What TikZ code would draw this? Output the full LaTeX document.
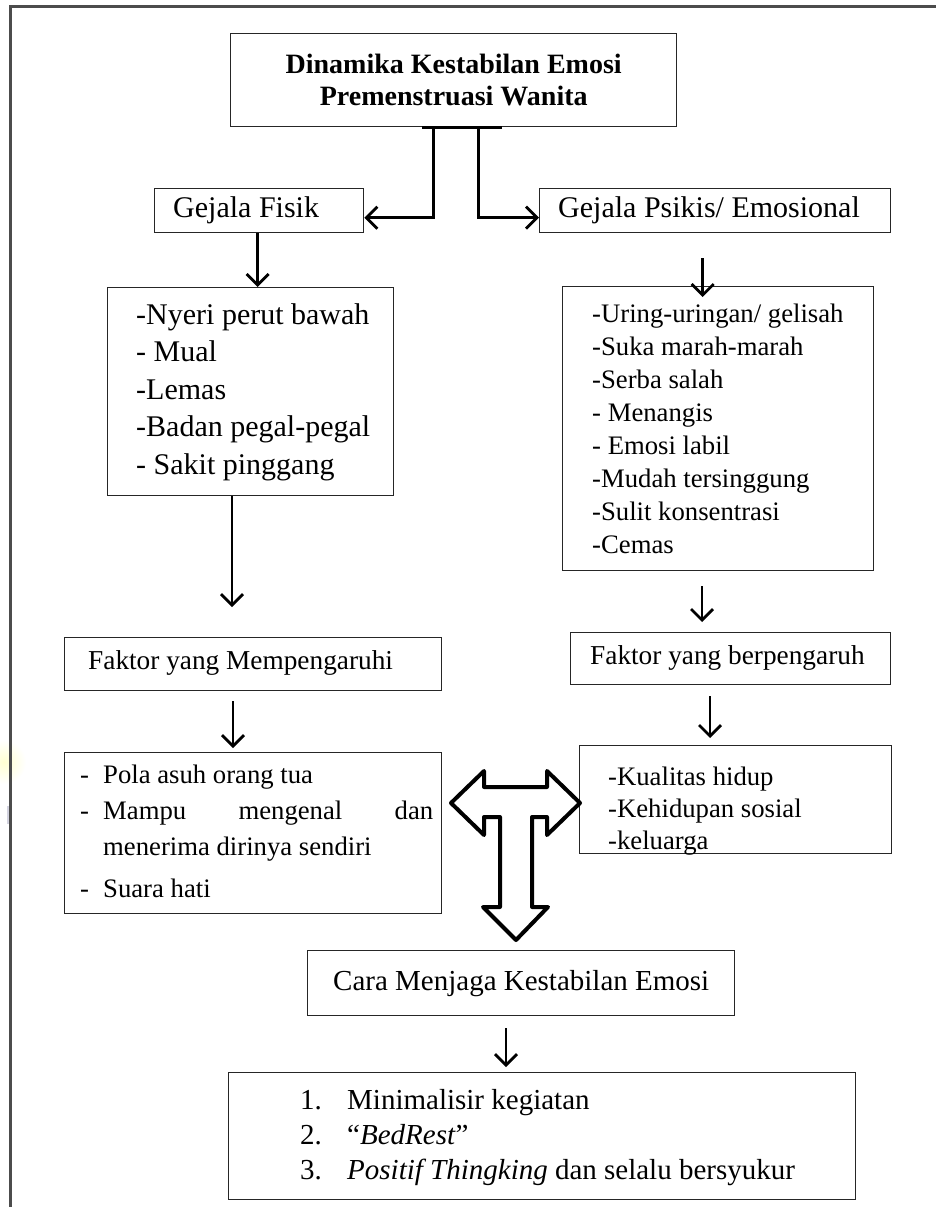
\documentclass[tikz,border=0pt]{standalone}
\usepackage{fontspec}
\setmainfont{Liberation Serif}
\usetikzlibrary{arrows.meta}
\begin{document}
\begin{tikzpicture}[x=1pt,y=-1pt,
  box/.style={draw=black!85, line width=1.4pt, inner sep=0pt, anchor=north west},
  arr/.style={line width=2.8pt, -{Straight Barb[length=11pt,width=22pt,line width=2.8pt]}},
  head/.style={font=\fontsize{30}{34}\selectfont},
  fhead/.style={font=\fontsize{27.3}{32}\selectfont},
  txt/.style={inner sep=0pt, anchor=west, align=left},
  frame/.style={draw=black!70, line width=2.5pt},
  blockarrow/.style={line width=4pt, line join=round}
]
\useasboundingbox (0,0) rectangle (936,1207);
% faint scan marks at the left edge
\shade[inner color=yellow!18, outer color=white] (4,762) circle (22);
\draw[line width=3pt, blue!15!gray!30] (8.5,806) -- (8.5,824);
% outer frame (top and left only)
\draw[frame] (936,6.7) -- (10.7,6.7) -- (10.7,1207);

% title
\node[box, minimum width=446pt, minimum height=93pt, align=center,
      font=\bfseries\fontsize{28}{32}\selectfont] (title) at (230,33)
      {Dinamika Kestabilan Emosi\\Premenstruasi Wanita};
\draw[line width=3pt] ([xshift=-32pt]title.south) -- ([xshift=48pt]title.south);

% level 1
\node[box, minimum width=209pt, minimum height=44pt] (fisik) at (154,188) {};
\node[txt, head] (fisiktxt) at (173,210) {Gejala Fisik};
\node[box, minimum width=351pt, minimum height=44pt] (psikis) at (539,188) {};
\node[txt, head] (psikistxt) at (558,210) {Gejala Psikis/ Emosional};

\draw[arr] ([xshift=-20pt]title.south) |- ([yshift=-7pt]fisik.east);
\draw[arr] ([xshift=25pt]title.south) |- ([yshift=-7pt]psikis.west);

% symptom boxes
\node[box, minimum width=286pt, minimum height=208pt] (nyeri) at (107,287) {};
\node[txt, font=\fontsize{30}{37.5}\selectfont] (nyeritxt) at (136,392)
  {-Nyeri perut bawah\\- Mual\\-Lemas\\-Badan pegal-pegal\\- Sakit pinggang};
\node[box, minimum width=311pt, minimum height=284pt] (uring) at (562,286) {};
\node[txt, font=\fontsize{26.7}{33.1}\selectfont] (uringtxt) at (592,429)
  {-Uring-uringan/ gelisah\\-Suka marah-marah\\-Serba salah\\- Menangis\\- Emosi labil\\-Mudah tersinggung\\-Sulit konsentrasi\\-Cemas};

\coordinate (fa) at ([xshift=-1.5pt]fisik.south);
\draw[arr] (fa) -- (fa |- nyeri.north);
\coordinate (pa) at ([xshift=-12.5pt,yshift=-25pt]psikis.south);
\draw[arr, shorten >=-11pt] (pa) -- (pa |- uring.north);

% factor boxes
\node[box, minimum width=377pt, minimum height=53pt] (fm) at (64,637) {};
\node[txt, fhead] (fmtxt) at (88,663) {Faktor yang Mempengaruhi};
\node[box, minimum width=320pt, minimum height=52pt] (fb) at (570,632) {};
\node[txt, fhead] (fbtxt) at (590,658) {Faktor yang berpengaruh};

\coordinate (na) at (232,0);
\draw[arr, shorten >=30pt] (na |- nyeri.south) -- (na |- fm.north);
\coordinate (ua) at (702,0);
\draw[arr, shorten <=15pt, shorten >=10pt] (ua |- uring.south) -- (ua |- fb.north);

% list boxes
\node[box, minimum width=377pt, minimum height=161pt] (pola) at (64,752) {};
\node[inner sep=0pt, anchor=north west, font=\fontsize{26.7}{36}\selectfont] (polatxt) at (80,758)
  {\begin{tabular}{@{}p{23pt}@{}l@{}}
   - & Pola asuh orang tua\\
   - & \makebox[330pt][s]{Mampu mengenal dan}\\
     & menerima dirinya sendiri\\[6pt]
   - & Suara hati
   \end{tabular}};
\node[box, minimum width=312pt, minimum height=108pt] (kual) at (579,745) {};
\begin{scope}
  \clip (kual.north west) rectangle (kual.south east);
  \node[txt, font=\fontsize{26.7}{32}\selectfont] (kualtxt) at (608,811)
    {-Kualitas hidup\\-Kehidupan sosial\\-keluarga};
\end{scope}

\coordinate (la) at (233,0);
\draw[arr, shorten <=10pt, shorten >=4pt] (la |- fm.south) -- (la |- pola.north);
\coordinate (ra) at (710,0);
\draw[arr, shorten <=11pt, shorten >=7pt] (ra |- fb.south) -- (ra |- kual.north);

% T-shaped block arrow
\draw[blockarrow] (451,803) -- (484,771) -- (484,787) -- (547,787) -- (547,771)
  -- (580,803) -- (547,835) -- (547,817) -- (532,817) -- (532,907) -- (548,907)
  -- (516,940) -- (483,907) -- (500,907) -- (500,817) -- (484,817) -- (484,835)
  -- cycle;

% way to keep stability
\node[box, minimum width=427pt, minimum height=65pt] (cara) at (307,950) {};
\node[inner sep=0pt, font=\fontsize{29}{33}\selectfont] (caratxt) at (cara.center)
  {Cara Menjaga Kestabilan Emosi};
\node[box, minimum width=627pt, minimum height=127pt] (tips) at (228,1072) {};
\node[txt, font=\fontsize{29}{35}\selectfont] (tipstxt) at (300,1137)
  {\begin{tabular}{@{}p{47pt}@{}l@{}}
   1. & Minimalisir kegiatan\\
   2. & ``\textit{BedRest}''\\
   3. & \textit{Positif Thingking} dan selalu bersyukur
   \end{tabular}};
\coordinate (ca) at (506,0);
\draw[arr, shorten <=12pt, shorten >=5pt] (ca |- cara.south) -- (ca |- tips.north);
\end{tikzpicture}
\end{document}
